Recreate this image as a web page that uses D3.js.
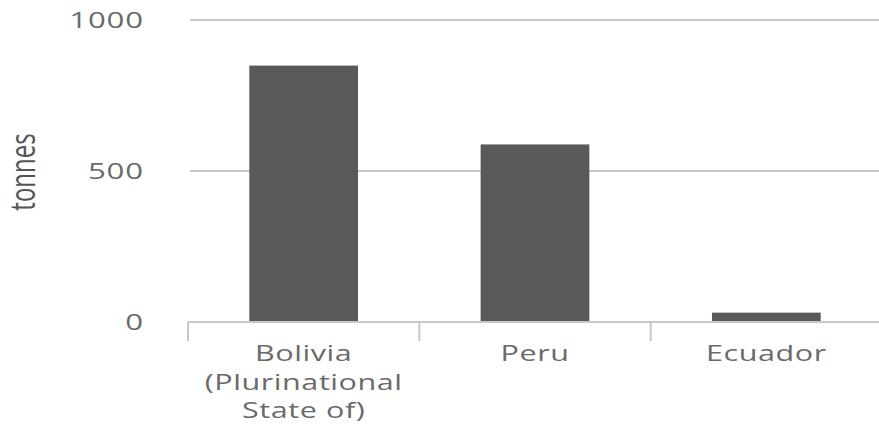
<!DOCTYPE html>
<html>
<head>
<meta charset="utf-8">
<script src="https://cdn.jsdelivr.net/npm/d3@7"></script>
<style>
  html, body { margin: 0; padding: 0; background: #fff; }
  svg { display: block; }
</style>
</head>
<body>
<svg id="chart" width="879" height="425"></svg>
<script>
const categories = ["Bolivia (Plurinational State of)", "Peru", "Ecuador"];
const categoryLines = [["Bolivia", "(Plurinational", "State of)"], ["Peru"], ["Ecuador"]];
const values = [849, 588, 31];
const yTicks = [0, 500, 1000];
const yTitle = "tonnes";

const svg = d3.select("#chart");
const W = 879, H = 425;
const sx = 1.42; // horizontal stretch of text glyphs

const x = d3.scaleBand().domain(categories).range([188, 882]).paddingInner(0.53).paddingOuter(0.265);
const y = d3.scaleLinear().domain([0, 1000]).range([322, 20]);

// gridlines
svg.append("g").selectAll("line").data(yTicks.filter(d => d !== 0)).join("line")
  .attr("x1", 190).attr("x2", W)
  .attr("y1", d => y(d)).attr("y2", d => y(d))
  .attr("stroke", "#c8c8c8").attr("stroke-width", 2);

// y tick labels
svg.append("g").selectAll("text").data(yTicks).join("text")
  .attr("transform", d => `translate(144,${y(d) + 8}) scale(${sx},1)`)
  .attr("text-anchor", "end")
  .attr("font-family", "'Open Sans', sans-serif")
  .attr("font-size", 22)
  .attr("letter-spacing", 0.6)
  .attr("fill", "#6a6a6a")
  .text(d => d);

// bars
svg.append("g").selectAll("rect").data(values).join("rect")
  .attr("x", (d, i) => x(categories[i]))
  .attr("width", x.bandwidth())
  .attr("y", d => y(d))
  .attr("height", d => y(0) - y(d))
  .attr("fill", "#595959");

// x axis line
svg.append("line")
  .attr("x1", 188).attr("x2", W)
  .attr("y1", y(0)).attr("y2", y(0))
  .attr("stroke", "#c8c8c8").attr("stroke-width", 2);

// x ticks at band boundaries
const step = x.step();
const edges = categories.map(c => x(c) - step * x.paddingInner() / 2);
svg.append("g").selectAll("line").data(edges).join("line")
  .attr("x1", d => d).attr("x2", d => d)
  .attr("y1", y(0)).attr("y2", y(0) + 19)
  .attr("stroke", "#c8c8c8").attr("stroke-width", 2);

// category labels
const lab = svg.append("g").selectAll("g").data(categories).join("g");
lab.each(function(c, i) {
  const cx = x(c) + x.bandwidth() / 2;
  d3.select(this).selectAll("text").data(categoryLines[i]).join("text")
    .attr("transform", (t, j) => `translate(${cx},${361 + j * 28.5}) scale(${sx},1)`)
    .attr("text-anchor", "middle")
    .attr("font-family", "'Open Sans', sans-serif")
    .attr("font-size", 21.5)
    .attr("letter-spacing", 0.4)
    .attr("fill", "#6a6a6a")
    .text(t => t);
});

// y title
svg.append("text")
  .attr("transform", `translate(35,172) scale(${sx},1) rotate(-90)`)
  .attr("text-anchor", "middle")
  .attr("font-family", "'Open Sans', sans-serif")
  .attr("font-size", 24)
  .attr("fill", "#555")
  .text(yTitle);
</script>
</body>
</html>
